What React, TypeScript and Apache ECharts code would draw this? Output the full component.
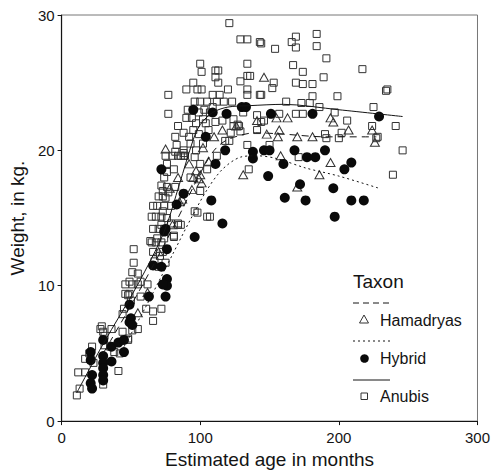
import React, { useEffect, useRef } from "react";
import * as echarts from "echarts";

const FONT = "'Liberation Sans', Arial, Helvetica, sans-serif";

const xTicks = [0, 100, 200, 300];
const yTicks = [0, 10, 20, 30];

const hamadryas: number[][] = [
  [75, 20.1], [99, 17.9], [101, 17.6], [106, 19.2], [87, 16.4], [94, 17.1], [97, 18.5],
  [116, 21.5], [126, 21.8], [141, 22.2], [146, 25.4], [155, 22.4], [163, 22.4], [194, 22.4],
  [196, 22.1], [207, 21.5], [157, 21.5], [148, 21.2], [156, 21.0], [170, 21.0], [181, 21.0],
  [224, 21.5], [226, 20.6], [158, 19.6], [194, 19.1], [186, 18.2], [170, 17.3], [131, 18.2],
  [55, 8.0], [62, 9.5], [70, 12.5], [80, 14.5], [85, 16.2], [78, 17.2], [110, 21.0],
  [102, 20.2], [92, 19.0], [84, 18.0], [100, 18.2], [95, 18.0],
];

const hybrid: number[][] = [
  [21, 5.1], [21, 4.5], [22, 3.4], [21, 2.8], [22, 2.4],
  [30, 6.0], [30, 4.8], [30, 4.3], [30, 3.9], [30, 3.4], [30, 3.0],
  [36, 4.4], [36, 5.5], [41, 5.8], [45, 6.0], [45, 5.1], [49, 8.6], [50, 7.6], [49, 7.3], [51, 7.1],
  [63, 9.2], [66, 11.5], [72, 11.4], [76, 10.5], [76, 10.0], [75, 9.2], [73, 10.1], [74, 14.0], [76, 12.7],
  [72, 18.6], [88, 16.8], [83, 16.0], [75, 14.2], [96, 13.6], [95, 23.0], [109, 22.8], [119, 22.7],
  [130, 23.2], [133, 23.2], [104, 21.0], [118, 20.0], [111, 19.0], [138, 19.9], [138, 19.4],
  [108, 16.3], [116, 14.6],
  [146, 20.0], [150, 20.0], [168, 20.0], [177, 19.5], [183, 19.5], [190, 20.0], [160, 19.0],
  [209, 19.1], [204, 18.6], [149, 18.1], [172, 17.5], [196, 17.2], [161, 16.5], [176, 16.3],
  [209, 16.3], [218, 16.3], [197, 15.1], [151, 22.7], [181, 22.7], [229, 22.5],
];

const anubis: number[][] = [
  // young animals
  [11, 1.9], [13, 2.4], [12, 3.6], [17, 3.6], [17, 4.6], [21, 4.6], [23, 4.3], [30, 2.7],
  [20, 5.0], [22, 5.5], [29, 7.0], [30, 6.6], [31, 6.3], [36, 6.8], [31, 5.6], [38, 5.1],
  [41, 3.7], [44, 6.6], [48, 6.1], [51, 6.7], [55, 6.8], [44, 7.9], [45, 8.3], [50, 8.9],
  [49, 9.4], [46, 9.4], [46, 10.1], [51, 10.1], [55, 10.1], [62, 10.1], [61, 8.3], [66, 8.1],
  [66, 7.4], [72, 8.3], [57, 9.2], [48, 9.3], [52, 12.7], [52, 11.7], [51, 11.0], [55, 10.9],
  [49, 10.3], [57, 10.3], [64, 13.3], [69, 13.5], [75, 14.0], [81, 13.7], [67, 11.8], [70, 11.4],
  [75, 11.7], [66, 12.5], [71, 12.2], [48, 6.0], [42, 5.0], [35, 5.5], [28, 6.8],
  // adolescents
  [66, 15.9], [69, 15.9], [74, 15.9], [79, 15.9], [65, 15.1], [68, 15.1], [72, 15.1],
  [66, 14.2], [70, 14.2], [74, 14.2], [65, 13.2], [68, 13.2], [72, 13.2], [84, 14.5], [86, 14.5],
  [81, 13.6], [98, 15.4], [105, 15.1], [107, 15.1], [96, 15.5], [79, 14.6], [84, 14.6],
  [75, 19.6], [80, 19.6], [84, 19.6], [88, 19.6], [81, 18.6], [76, 18.4], [72, 17.4], [76, 17.3],
  [77, 16.9], [82, 17.3], [70, 16.6], [73, 16.6], [105, 18.6], [112, 19.6], [82, 19.9], [88, 19.8],
  [135, 18.6], [100, 17.0], [93, 18.0], [73, 17.0], [74, 18.0], [75, 16.5], [73, 15.5],
  [76, 15.0], [72, 14.5], [74, 13.5], [73, 12.5], [76, 19.0],
  // adults
  [121, 29.4], [129, 28.2], [134, 28.2], [100, 26.4], [101, 25.8], [111, 25.9], [113, 25.9],
  [111, 25.4], [113, 25.0], [134, 26.4], [77, 24.1], [95, 25.0], [90, 24.5], [98, 24.5],
  [101, 24.5], [109, 24.1], [114, 24.1], [120, 24.5], [129, 25.1], [134, 25.5], [136, 25.5],
  [77, 22.7], [84, 21.8], [88, 21.3], [82, 21.0], [83, 20.4], [86, 19.6], [89, 19.6],
  [96, 23.6], [100, 23.6], [105, 23.6], [112, 23.6], [117, 23.6], [123, 23.6], [128, 21.8],
  [124, 21.8], [131, 22.8], [124, 22.3], [134, 24.1], [143, 24.1], [134, 24.5], [90, 22.4],
  [94, 22.4], [109, 23.2], [141, 22.6], [111, 22.1], [116, 22.2], [122, 21.3], [127, 21.9],
  [134, 20.4], [88, 20.0], [118, 20.7], [121, 20.7], [129, 21.4], [141, 21.5], [144, 22.1],
  [92, 21.0], [95, 21.5], [97, 22.0], [99, 21.2], [102, 22.3], [104, 22.0], [93, 20.5],
  [97, 20.0], [100, 19.0], [102, 20.5], [106, 21.5], [96, 19.5], [91, 23.0], [103, 23.0],
  [107, 22.8], [99, 22.8],
  [144, 27.9], [154, 27.5], [166, 28.0], [169, 28.4], [169, 27.6], [184, 28.6], [184, 27.7],
  [191, 26.8], [167, 26.3], [174, 25.8], [189, 25.4], [217, 26.0], [153, 25.0], [152, 24.6],
  [169, 25.0], [174, 24.9], [181, 24.9], [144, 24.1], [181, 24.0], [199, 24.0], [234, 24.4],
  [162, 23.6], [173, 23.5], [179, 23.5], [186, 23.2], [197, 22.8], [225, 23.2], [157, 22.7],
  [169, 22.7], [174, 22.7], [146, 22.2], [206, 22.2], [224, 21.8], [202, 21.3], [191, 20.9],
  [200, 20.9], [150, 20.4], [227, 20.9], [246, 20.0], [239, 18.2], [241, 21.8], [235, 24.5],
  [228, 21.0], [190, 21.2], [171, 19.5], [143, 28.0],
];

const hamadryasFit: number[][] = [
  [30, 5.0], [57, 9.8], [80, 14.2], [100, 18.3], [110, 20.0], [120, 20.8], [140, 21.3],
  [160, 21.2], [190, 21.0], [227, 21.0],
];
const hybridFit: number[][] = [
  [45, 5.5], [60, 8.3], [75, 11.3], [80, 12.3], [93, 14.9], [105, 17.1], [116, 18.6],
  [129, 19.5], [141, 19.6], [155, 19.4], [176, 18.7], [200, 18.1], [229, 17.2],
];
const anubisFit: number[][] = [
  [11, 2.1], [30, 5.7], [55, 10.1], [74, 14.0], [85, 17.5], [95, 20.8], [100, 21.9],
  [109, 22.8], [120, 23.2], [135, 23.3], [160, 23.4], [200, 23.0], [246, 22.5],
];

const legendNames = ["Hamadryas", "Hybrid", "Anubis"];

export default function App() {
  const ref = useRef<HTMLDivElement>(null);
  useEffect(() => {
    if (!ref.current) return;
    const chart = echarts.init(ref.current, null, { renderer: "svg" });
    const ink = "#141414";
    const boxStroke = "#333333";
    chart.setOption({
      animation: false,
      backgroundColor: "#ffffff",
      textStyle: { fontFamily: FONT },
      grid: {
        left: 60, right: 14, top: 15, bottom: 51,
        show: true, borderColor: "#777", borderWidth: 1, backgroundColor: "transparent",
      },
      xAxis: {
        type: "value", min: xTicks[0], max: xTicks[xTicks.length - 1], interval: 100,
        name: "Estimated age in months", nameLocation: "middle", nameGap: 27,
        nameTextStyle: { fontSize: 19, color: ink, fontFamily: FONT },
        axisLine: { onZero: false, lineStyle: { color: ink, width: 1.2 } },
        axisTick: { show: true, length: 4, inside: false, lineStyle: { color: ink } },
        axisLabel: { fontSize: 15, color: ink, margin: 9, fontFamily: FONT },
        splitLine: { show: false },
      },
      yAxis: {
        type: "value", min: yTicks[0], max: yTicks[yTicks.length - 1], interval: 10,
        name: "Weight, in kg.", nameLocation: "middle", nameGap: 31, nameRotate: 90,
        nameTextStyle: { fontSize: 19, color: ink, fontFamily: FONT },
        axisLine: { onZero: false, lineStyle: { color: ink, width: 1.2 } },
        axisTick: { show: true, length: 4, inside: false, lineStyle: { color: ink } },
        axisLabel: { fontSize: 15, color: ink, margin: 7, fontFamily: FONT },
        splitLine: { show: false },
      },
      series: [
        {
          name: "Anubis", type: "scatter", data: anubis, symbol: "rect", symbolSize: 7,
          itemStyle: { color: "rgba(255,255,255,0)", borderColor: boxStroke, borderWidth: 1, opacity: 1 },
          z: 2,
        },
        {
          name: "Hamadryas", type: "scatter", data: hamadryas, symbol: "triangle", symbolSize: [9, 8],
          itemStyle: { color: "rgba(255,255,255,0)", borderColor: boxStroke, borderWidth: 1, opacity: 1 },
          z: 3,
        },
        {
          name: "Hybrid", type: "scatter", data: hybrid, symbol: "circle", symbolSize: 10,
          itemStyle: { color: "#0a0a0a", opacity: 1 },
          z: 4,
        },
        {
          name: "Hamadryas fit", type: "line", data: hamadryasFit, showSymbol: false, smooth: 0.3,
          lineStyle: { color: ink, width: 1, type: [7, 5] }, z: 5,
        },
        {
          name: "Hybrid fit", type: "line", data: hybridFit, showSymbol: false, smooth: 0.3,
          lineStyle: { color: ink, width: 1, type: [2, 3] }, z: 5,
        },
        {
          name: "Anubis fit", type: "line", data: anubisFit, showSymbol: false, smooth: 0.3,
          lineStyle: { color: ink, width: 1, type: "solid" }, z: 5,
        },
      ],
      graphic: [
        { type: "text", left: 353, top: 272, style: { text: "Taxon", fontSize: 19, fill: ink, fontFamily: FONT } },
        { type: "line", shape: { x1: 353, y1: 303, x2: 390, y2: 303 }, style: { stroke: ink, lineWidth: 1, lineDash: [6, 4] } },
        { type: "polygon", shape: { points: [[364, 315], [359.5, 323], [368.5, 323]] }, style: { fill: "none", stroke: boxStroke, lineWidth: 1 } },
        { type: "text", left: 380, top: 312, style: { text: legendNames[0], fontSize: 16, fill: ink, fontFamily: FONT } },
        { type: "line", shape: { x1: 353, y1: 341, x2: 390, y2: 341 }, style: { stroke: ink, lineWidth: 1, lineDash: [2, 3] } },
        { type: "circle", shape: { cx: 364.5, cy: 358.5, r: 4.3 }, style: { fill: "#0a0a0a" } },
        { type: "text", left: 380, top: 350, style: { text: legendNames[1], fontSize: 16, fill: ink, fontFamily: FONT } },
        { type: "line", shape: { x1: 353, y1: 380, x2: 390, y2: 380 }, style: { stroke: ink, lineWidth: 1 } },
        { type: "rect", shape: { x: 361, y: 393, width: 6.5, height: 6.5 }, style: { fill: "none", stroke: boxStroke, lineWidth: 1 } },
        { type: "text", left: 380, top: 388, style: { text: legendNames[2], fontSize: 16, fill: ink, fontFamily: FONT } },
      ],
    });
    return () => chart.dispose();
  }, []);
  return (
    <div
      ref={ref}
      style={{ position: "fixed", left: 0, top: 0, width: 493, height: 474, background: "#fff" }}
    />
  );
}
